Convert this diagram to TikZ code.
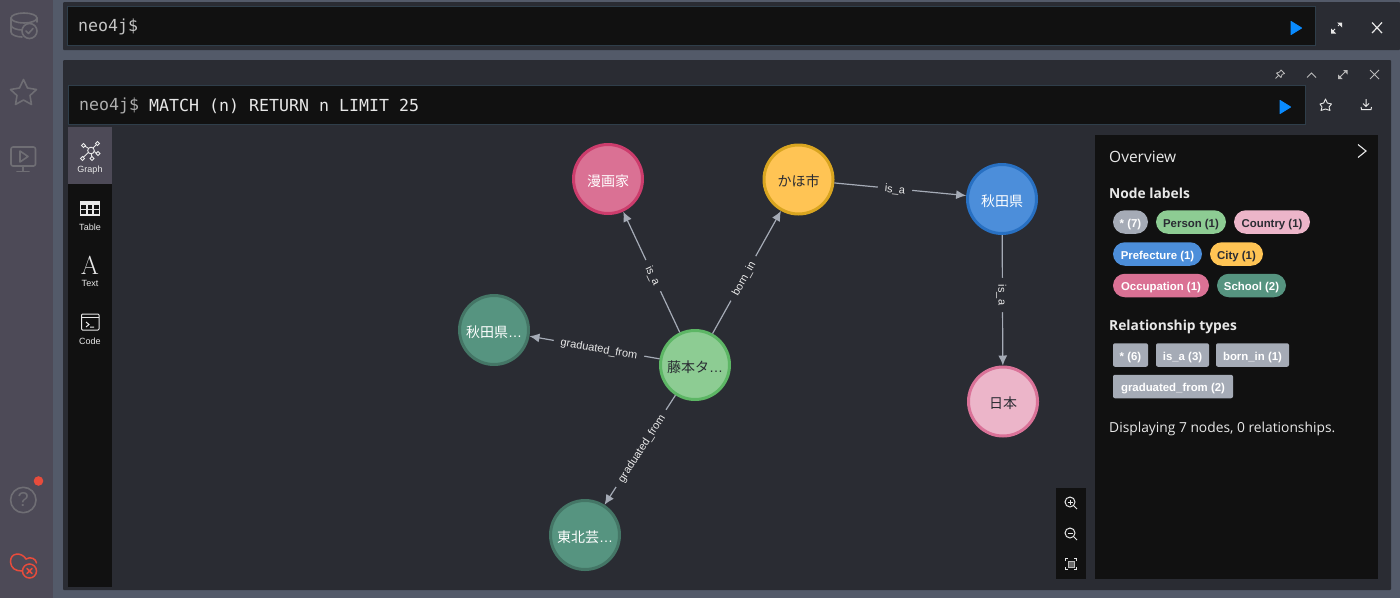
\documentclass[tikz,border=0pt]{standalone}
\usepackage{fontspec}
\setmainfont{Liberation Sans}
\newfontfamily\cjk{Noto Sans CJK JP}
\newfontfamily\monof{DejaVu Sans Mono}
\newfontfamily\ui{Open Sans}
\newfontfamily\serifA{Latin Modern Roman}
\usetikzlibrary{arrows.meta}
\definecolor{side}{HTML}{4D4A57}
\definecolor{bgm}{HTML}{535A69}
\definecolor{frame}{HTML}{2A2C33}
\definecolor{blk}{HTML}{111111}
\definecolor{edge}{HTML}{2F3E4A}
\definecolor{grey}{HTML}{A5ABB6}
\definecolor{iconc}{HTML}{6F6E74}
\definecolor{redc}{HTML}{E74C3C}
\definecolor{white2}{HTML}{E8E8E8}
\definecolor{playb}{HTML}{0A8BFF}
\definecolor{pf}{HTML}{8DCC93}\definecolor{pb}{HTML}{5DB665}
\definecolor{cf}{HTML}{ECB5C9}\definecolor{cb}{HTML}{DA7298}
\definecolor{rf}{HTML}{4C8EDA}\definecolor{rb}{HTML}{2870C2}
\definecolor{yf}{HTML}{FFC454}\definecolor{yb}{HTML}{D9A520}
\definecolor{of}{HTML}{DA7194}\definecolor{ob}{HTML}{CC3C6C}
\definecolor{sf}{HTML}{569480}\definecolor{sb}{HTML}{447666}
\tikzset{
 x=1pt,y=-1pt,
 gnode/.style={circle,minimum size=69pt,inner sep=0pt,line width=3pt,outer sep=1.5pt,text height=14.6pt,text depth=0pt,font=\cjk\fontsize{14}{14}\selectfont},
 rel/.style={draw=grey,line width=1.2pt,-{Latex[length=10pt,width=9pt]}},
 rlab/.style={fill=frame,sloped,inner xsep=7pt,inner ysep=1pt,text=white2,text height=8pt,text depth=0pt,font=\fontsize{11}{11}\selectfont},
 pill/.style={rounded corners=11.9pt,minimum height=23.5pt,inner sep=0pt,text height=10.5pt,text depth=0pt,font=\bfseries\fontsize{11.4}{12}\selectfont},
 tag/.style={rounded corners=2pt,fill=grey,text=white,minimum height=23.5pt,inner sep=0pt,text height=10.5pt,text depth=0pt,font=\bfseries\fontsize{11.4}{12}\selectfont},
 head/.style={anchor=west,inner sep=0pt,text=white2,font=\ui\bfseries\fontsize{13.8}{14}\selectfont},
 tablab/.style={inner sep=0pt,text=white2,font=\fontsize{9}{10}\selectfont},
 prompt/.style={anchor=west,inner sep=0pt,font=\monof\fontsize{16.6}{17}\selectfont},
 ic/.style={draw=iconc,line width=1.6pt,line cap=round,line join=round},
 edbox/.style={draw=edge,fill=blk,line width=1pt},
}
\newcommand{\pilln}[7]{\node[pill,fill=#5,text=#6,minimum width=#3pt-#2pt] (#1) at ({(#2+#3)/2},#4) {#7};}
\newcommand{\tagn}[5]{\node[tag,minimum width=#3pt-#2pt] (#1) at ({(#2+#3)/2},#4) {#5};}
\begin{document}
\begin{tikzpicture}
\useasboundingbox (0,0) rectangle (1400,598);
\fill[bgm] (0,0) rectangle (1400,598);
\fill[side] (0,0) rectangle (53,598);
% frames
\fill[frame,rounded corners=1pt] (63,2) rectangle (1400,50);
\fill[frame,rounded corners=1pt] (63,60) rectangle (1391,590);
\draw[edbox] (67.5,6.5) rectangle (1315.5,45.5);
\draw[edbox] (68.5,85.5) rectangle (1305.5,124.5);
\node[prompt,text=white2!85!black] (p1) at (78,27) {neo4j\$};
\node[prompt,text=white2!75!black] (p2) at (79,106) {neo4j\$};
\node[prompt,text=white2] (p3) at (149,106) {MATCH (n) RETURN n LIMIT 25};
% play
\fill[playb,line join=round,draw=playb,line width=1pt] (1291,21.5) -- (1301.5,28) -- (1291,34.5) -- cycle;
\fill[playb,line join=round,draw=playb,line width=1pt] (1280,100.5) -- (1290.5,107) -- (1280,113.5) -- cycle;
% top right icons
\draw[white2,line width=1pt] (1332,32) -- (1335,29) (1338,26) -- (1340.5,23.5);
\fill[white2] (1342,22.5) -- (1337,22.5) -- (1342,27.5) -- cycle;
\fill[white2] (1331,33.5) -- (1336,33.5) -- (1331,28.5) -- cycle;
\draw[white2,line width=1.2pt] (1372,22.5) -- (1382,33) (1382,22.5) -- (1372,33);
% second row icons
\draw[white2!80!black,line width=.8pt,line join=round] (1281,70) -- (1284.5,73.5) -- (1282,74.5) -- (1281,77.5) -- (1276.5,73) -- (1279.5,72) -- cycle (1278.5,75.5) -- (1275.5,78.5);
\draw[white2!80!black,line width=.9pt] (1307,77.5) -- (1311.5,73) -- (1316,77.5);
\draw[white2!80!black,line width=.8pt] (1339,78) -- (1346,71);
\fill[white2!80!black] (1347.5,70) -- (1343,70) -- (1347.5,74.5) -- cycle;
\fill[white2!80!black] (1338,79) -- (1342.5,79) -- (1338,74.5) -- cycle;
\draw[white2!80!black,line width=.9pt] (1370,70) -- (1379,79) (1379,70) -- (1370,79);
\draw[white2,line width=.9pt,line join=round] (1325.5,99) -- (1327.3,103) -- (1331.5,104) -- (1329,107) -- (1330,110.5) -- (1325.5,109) -- (1321,110.5) -- (1322,107) -- (1320,104) -- (1323.7,103) -- cycle;
\draw[white2,line width=1pt] (1366,99) -- (1366,106) (1363,103.5) -- (1366,106.5) -- (1369,103.5);
\draw[white2,line width=1pt] (1361,107) -- (1361.5,109.5) -- (1371,109.5) -- (1371.5,107);
% sidebar icons
\begin{scope}[ic]
 \draw (11,18) arc[start angle=180,end angle=360,x radius=13,y radius=5,] ;
 \draw (11,18) arc[start angle=180,end angle=0,x radius=13,y radius=5];
 \draw (11,18) -- (11,32) .. controls (11,35) and (17,37) .. (22,37);
 \draw (11,25) .. controls (11,28) and (17,30) .. (22,30);
 \draw (37,18) -- (37,22);
 \draw (29.5,31) circle[radius=7.5];
 \draw (26,31) -- (28.5,33.5) -- (33,28.5);
 \draw (23.5,79.5) -- (27.5,88) -- (36.5,89.5) -- (30,95.5) -- (31.5,104.5) -- (23.5,100) -- (15.5,104.5) -- (17,95.5) -- (10.5,89.5) -- (19.5,88) -- cycle;
 \draw[rounded corners=2pt] (11,147) rectangle (35.5,166);
 \draw (20,151) -- (28,156.5) -- (20,162) -- cycle;
 \draw (23,166) -- (23,171) (17,171.5) -- (29,171.5);
 \draw (23.3,500) circle[radius=12.7];
\end{scope}
\node[inner sep=0pt,text=iconc,font=\fontsize{20}{20}\selectfont] (qm) at (23.3,500) {?};
\fill[redc] (38.5,481) circle[radius=4.8];
\begin{scope}[draw=redc,line width=1.5pt,line cap=round]
 \draw (26,559) .. controls (22,552) and (10,552) .. (10.5,562) .. controls (11,568) and (15,571) .. (22,571);
 \draw (26,559) .. controls (31,556) and (36,559) .. (36.5,563);
 \draw (29.5,571) circle[radius=7];
 \draw (27,568.5) -- (32,573.5) (32,568.5) -- (27,573.5);
\end{scope}
% left tabs
\fill[blk] (68,127) rectangle (112,587);
\fill[side] (68,127) rectangle (112,184);
\begin{scope}[draw=white2,line width=.9pt]
 \draw (91,150) -- (84,145.5) (91,150) -- (97.5,143.5) (91,150) -- (98,153.5) (91,150) -- (82.5,158) (91,150) -- (92,159);
 \filldraw[fill=side] (91,150.5) circle[radius=3.3];
 \filldraw[fill=side] (83.5,145.5) circle[radius=1.9] (97.5,143.5) circle[radius=1.9] (98,153.5) circle[radius=1.9] (82.5,158.5) circle[radius=1.9] (92,158.5) circle[radius=1.9];
\end{scope}
\node[tablab] (tg) at (90,170) {Graph};
\begin{scope}[draw=white2,line width=1.1pt]
 \draw (80.5,201.5) rectangle (99.5,215);
 \fill[white2] (80.5,201.5) rectangle (99.5,204.5);
 \draw (80.5,209.5) -- (99.5,209.5) (87,204) -- (87,215) (93,204) -- (93,215);
\end{scope}
\node[tablab] (tt) at (90,227) {Table};
\node[inner sep=0pt,text=white2,font=\serifA\fontsize{26}{26}\selectfont] (ta) at (90,265) {A};
\node[tablab] (tx) at (90,283) {Text};
\begin{scope}[draw=white2,line width=1pt]
 \draw[rounded corners=1pt] (81.5,314) rectangle (99,330);
 \draw (81.5,317.5) -- (99,317.5);
 \draw (86,322) -- (89,324.5) -- (86,327) (90,327) -- (94,327);
\end{scope}
\node[tablab] (tc) at (90,341) {Code};
% graph nodes
\node[gnode,fill=of,draw=ob,text=white] (manga) at (608,179) {漫画家};
\node[gnode,fill=yf,draw=yb,text=frame] (kaho) at (798.5,179.5) {かほ市};
\node[gnode,fill=rf,draw=rb,text=white] (akita) at (1002,199) {秋田県};
\node[gnode,fill=cf,draw=cb,text=frame] (japan) at (1003,401.5) {日本};
\node[gnode,fill=sf,draw=sb,text=white] (school1) at (494,330) {秋田県{\rmfamily …}};
\node[gnode,fill=pf,draw=pb,text=frame] (person) at (695,365) {藤本タ{\rmfamily …}};
\node[gnode,fill=sf,draw=sb,text=white] (school2) at (585,535) {東北芸{\rmfamily …}};
% relationships
\draw[rel] (person) -- node[rlab,pos=.47]{is\_a} (manga);
\draw[rel] (person) -- node[rlab,pos=.45]{born\_in} (kaho);
\draw[rel] (kaho) -- node[rlab,pos=.46]{is\_a} (akita);
\draw[rel] (akita) -- node[rlab,pos=.46]{is\_a} (japan);
\draw[rel] (person) -- node[rlab,pos=.465]{graduated\_from} (school1);
\draw[rel] (person) -- node[rlab,pos=.485]{graduated\_from} (school2);
% overview
\fill[blk] (1095,135) rectangle (1378,579);
\draw[white2,line width=1.1pt] (1358,144.5) -- (1366,151) -- (1358,157.5);
\node[head,font=\ui\fontsize{15.5}{16}\selectfont] (ov) at (1109,156.5) {Overview};
\node[head] (nl) at (1109,193.5) {Node labels};
\pilln{a1}{1113}{1148}{222}{grey}{white}{* (7)}
\pilln{a2}{1156}{1226}{222}{pf}{frame}{Person (1)}
\pilln{a3}{1234}{1310}{222}{cf}{frame}{Country (1)}
\pilln{a4}{1113}{1202}{254}{rf}{white}{Prefecture (1)}
\pilln{a5}{1210}{1263}{254}{yf}{frame}{City (1)}
\pilln{a6}{1113}{1209}{285.5}{of}{white}{Occupation (1)}
\pilln{a7}{1217}{1286}{285.5}{sf}{white}{School (2)}
\node[head] (rt) at (1109,326.5) {Relationship types};
\tagn{b1}{1113}{1148}{355}{* (6)}
\tagn{b2}{1156}{1209}{355}{is\_a (3)}
\tagn{b3}{1216}{1289}{355}{born\_in (1)}
\tagn{b4}{1113}{1233}{386.5}{graduated\_from (2)}
\node[head,font=\ui\fontsize{13.8}{14}\selectfont] (disp) at (1109,428.5) {Displaying 7 nodes, 0 relationships.};
% zoom controls
\fill[blk] (1056,488) rectangle (1086,579);
\begin{scope}[draw=white2,line width=1pt]
 \draw (1070,502) circle[radius=5];
 \draw (1074,506) -- (1077,509);
 \draw (1067.5,502) -- (1072.5,502) (1070,499.5) -- (1070,504.5);
 \draw (1070,533) circle[radius=5];
 \draw (1074,537) -- (1077,540);
 \draw (1067.5,533) -- (1072.5,533);
 \draw (1065.5,561) -- (1065.5,558.5) -- (1068,558.5) (1074,558.5) -- (1076.5,558.5) -- (1076.5,561) (1076.5,567) -- (1076.5,569.5) -- (1074,569.5) (1068,569.5) -- (1065.5,569.5) -- (1065.5,567);
 \filldraw[fill=white2!45!black,draw=white2!80!black,line width=.7pt] (1068,561) rectangle (1074,567);
\end{scope}
\end{tikzpicture}
\end{document}
